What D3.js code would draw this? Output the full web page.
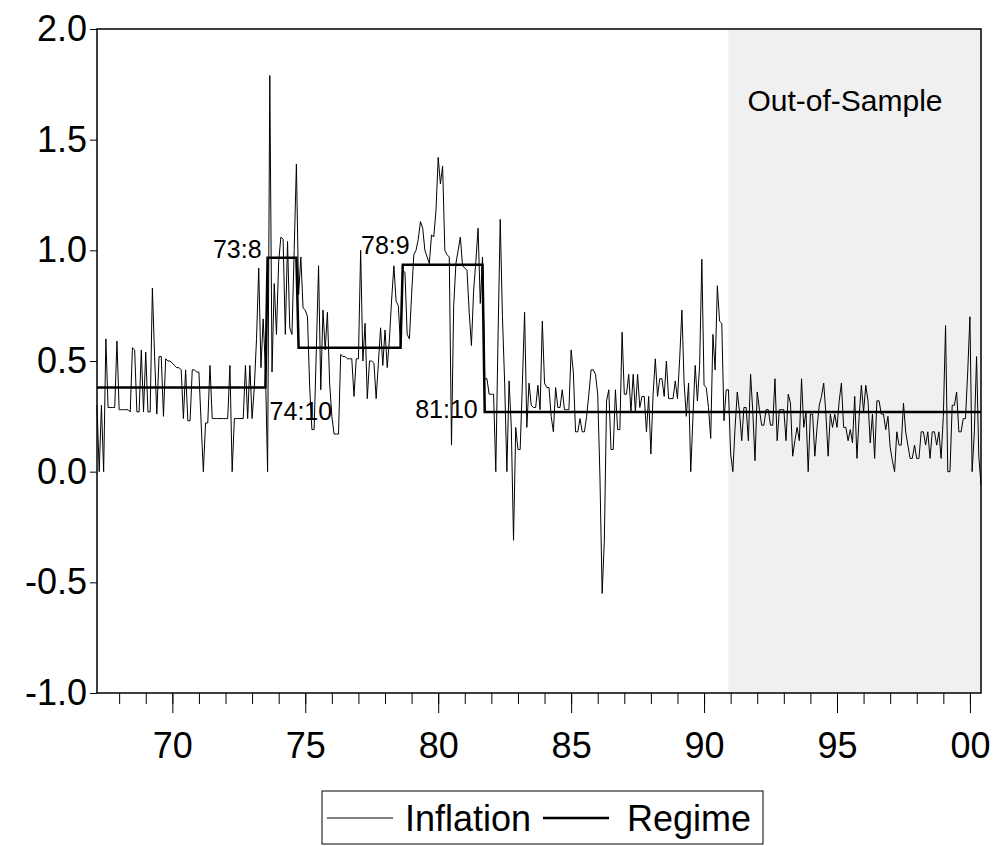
<!DOCTYPE html>
<html>
<head>
<meta charset="utf-8">
<script src="https://d3js.org/d3.v7.min.js"></script>
<style>
body{margin:0;background:#fff;}
text{font-family:"Liberation Sans",Arial,sans-serif;fill:#000;}
</style>
</head>
<body>
<div id="chart"></div>
<script>
// first observation of the monthly series
var startYear=1967;
var startMonth=3;

// monthly inflation, one line per year (1967 starts in March, 2000 ends in June)
var inflation=[
    0.30,0.00,0.30,0.00,0.60,0.29,0.29,0.29,0.29,0.59,
    0.28,0.28,0.28,0.28,0.28,0.27,0.56,0.55,0.27,0.27,0.55,0.27,
    0.54,0.27,0.27,0.83,0.52,0.26,0.52,0.52,0.25,0.51,0.50,0.50,
    0.49,0.48,0.47,0.47,0.46,0.24,0.46,0.23,0.23,0.46,0.46,0.45,
    0.45,0.22,0.00,0.22,0.22,0.48,0.24,0.24,0.24,0.24,0.24,0.24,
    0.24,0.24,0.48,0.00,0.24,0.24,0.24,0.24,0.24,0.48,0.24,0.48,
    0.24,0.38,0.60,0.92,0.47,0.69,0.47,0.00,1.79,0.45,0.85,0.62,
    0.95,1.06,1.05,0.62,1.04,0.65,0.62,1.00,1.39,0.80,0.97,0.74,
    0.73,0.70,0.38,0.19,0.19,0.55,0.93,0.37,0.73,0.55,0.72,0.40,
    0.25,0.17,0.17,0.17,0.53,0.52,0.52,0.51,0.51,0.51,0.34,0.51,
    0.51,1.00,0.50,0.67,0.33,0.50,0.50,0.49,0.33,0.49,0.65,0.48,
    0.64,0.47,0.60,0.78,0.93,0.77,0.75,0.57,0.91,0.90,0.62,0.60,
    0.80,0.98,1.00,1.05,1.13,1.10,1.00,0.97,0.94,1.07,1.06,1.18,
    1.42,1.30,1.38,1.00,0.98,0.97,0.12,0.75,0.94,1.00,1.06,0.93,
    0.92,0.91,0.72,0.57,0.82,0.95,1.10,0.76,0.97,0.42,0.42,0.35,
    0.35,0.35,0.00,0.60,1.14,0.70,0.40,0.00,0.41,0.20,-0.31,0.20,
    0.10,0.10,0.40,0.72,0.20,0.40,0.30,0.29,0.29,0.39,0.28,0.68,
    0.40,0.38,0.38,0.25,0.18,0.38,0.29,0.29,0.37,0.28,0.28,0.28,
    0.55,0.45,0.18,0.18,0.24,0.18,0.18,0.25,0.35,0.46,0.46,0.44,
    0.35,-0.02,-0.55,-0.31,0.32,0.37,0.10,0.10,0.37,0.19,0.19,0.63,
    0.35,0.35,0.44,0.27,0.44,0.27,0.44,0.29,0.34,0.34,0.18,0.34,
    0.08,0.35,0.51,0.34,0.42,0.42,0.34,0.50,0.33,0.33,0.33,0.41,
    0.33,0.51,0.73,0.40,0.25,0.40,0.00,0.25,0.48,0.32,0.48,0.96,
    0.39,0.38,0.29,0.15,0.62,0.46,0.84,0.68,0.67,0.23,0.37,0.37,
    0.08,0.00,0.20,0.36,0.27,0.14,0.29,0.29,0.14,0.44,0.27,0.05,
    0.36,0.28,0.21,0.21,0.28,0.28,0.21,0.21,0.42,0.14,0.28,0.28,
    0.28,0.14,0.35,0.31,0.07,0.14,0.20,0.14,0.42,0.20,0.27,0.00,
    0.26,0.26,0.07,0.20,0.30,0.34,0.40,0.26,0.07,0.26,0.20,0.26,
    0.20,0.32,0.40,0.20,0.20,0.14,0.19,0.13,0.34,0.06,0.25,0.39,
    0.27,0.39,0.32,0.13,0.26,0.06,0.32,0.32,0.26,0.26,0.19,0.25,
    0.11,0.05,0.00,0.18,0.12,0.12,0.31,0.18,0.12,0.06,0.06,0.12,
    0.06,0.06,0.18,0.18,0.12,0.18,0.06,0.18,0.18,0.12,0.18,0.06,
    0.25,0.66,0.00,0.00,0.30,0.30,0.36,0.18,0.18,0.24,0.24,0.45,
    0.70,0.00,0.18,0.52,0.07,-0.06
];

// regimes: start date and mean level
var regimeStarts=["1967:3","1973:8","1974:10","1978:9","1981:10"];
var regimeLevels=[0.38,0.967,0.56,0.935,0.27];
// break labels (one per regime change)
var breakLabels=["73:8","74:10","78:9","81:10"];

// out-of-sample period starts here
var outOfSampleStart="1990:12";

// axis ticks
var yTicks=[-1.0,-0.5,0.0,0.5,1.0,1.5,2.0];
var minorYears=d3.range(1968,2001);
var majorYears=[1970,1975,1980,1985,1990,1995,2000];
var seriesNames=["Inflation","Regime"];

// set SVG dimension
var svgWidth=994;
var svgHeight=846;

// set margins
var margin={top:29,right:13,bottom:153,left:97};

var chartWidth=svgWidth-margin.left-margin.right;
var chartHeight=svgHeight-margin.top-margin.bottom;

// "1973:8" -> decimal year
function toYear(s) {
    var p=s.split(":");
    return +p[0]+(+p[1]-1)/12;
}

function regimeAt(t) {
    var level=regimeLevels[0];
    regimeStarts.forEach(function(s,k) {
        if (t>=toYear(s)-1e-6) {level=regimeLevels[k];}
    });
    return level;
}

var data=inflation.map(function(v,i) {
    var t=startYear+(startMonth-1+i)/12;
    return {t:t,inflation:v,regime:regimeAt(t)};
});

var svg=d3.select("#chart")
    .append("svg")
    .attr("width",svgWidth)
    .attr("height",svgHeight);

svg.append("rect")
    .attr("width",svgWidth)
    .attr("height",svgHeight)
    .attr("fill","#fff");

var chartGroup=svg.append("g")
    .attr("transform",`translate(${margin.left},${margin.top})`);

// scales
var xScale=d3.scaleLinear()
    .domain([data[0].t,data[data.length-1].t])
    .range([0,chartWidth]);

var yScale=d3.scaleLinear()
    .domain([-1,2])
    .range([chartHeight,0]);

// out-of-sample shading
var shadeX=xScale(toYear(outOfSampleStart));
chartGroup.append("rect")
    .attr("x",shadeX)
    .attr("y",0)
    .attr("width",chartWidth-shadeX)
    .attr("height",chartHeight)
    .attr("fill","#f0f0f0");

chartGroup.append("text")
    .attr("x",shadeX+19)
    .attr("y",82)
    .attr("font-size","30px")
    .text("Out-of-Sample");

// series lines
var inflationLine=d3.line()
    .x(d=>xScale(d.t))
    .y(d=>yScale(d.inflation));

var regimeLine=d3.line()
    .x(d=>xScale(d.t))
    .y(d=>yScale(d.regime));

chartGroup.append("path")
    .datum(data)
    .attr("d",inflationLine)
    .attr("fill","none")
    .attr("stroke","#000")
    .attr("stroke-width",1)
    .attr("stroke-linejoin","miter");

chartGroup.append("path")
    .datum(data)
    .attr("d",regimeLine)
    .attr("fill","none")
    .attr("stroke","#000")
    .attr("stroke-width",2.5);

// break labels
var labelOffsets=[
    {anchor:"end",dx:-6,dy:0},
    {anchor:"start",dx:-29,dy:72},
    {anchor:"end",dx:7,dy:-11},
    {anchor:"end",dx:-7,dy:6}
];
breakLabels.forEach(function(lab,k) {
    var bx=xScale(toYear(regimeStarts[k+1]));
    var by=yScale(regimeLevels[k+1]);
    chartGroup.append("text")
        .attr("x",bx+labelOffsets[k].dx)
        .attr("y",by+labelOffsets[k].dy)
        .attr("text-anchor",labelOffsets[k].anchor)
        .attr("font-size","25px")
        .text(lab);
});

// frame
chartGroup.append("rect")
    .attr("width",chartWidth)
    .attr("height",chartHeight)
    .attr("fill","none")
    .attr("stroke","#000")
    .attr("stroke-width",1.5);

// y axis
var leftAxis=d3.axisLeft(yScale)
    .tickValues(yTicks)
    .tickSize(7)
    .tickPadding(3)
    .tickFormat(d=>d.toFixed(1));

var yAxis=chartGroup.append("g").call(leftAxis);
yAxis.select(".domain").remove();
yAxis.selectAll("text")
    .attr("font-size","36px")
    .attr("font-family","Liberation Sans, Arial, sans-serif");

// x axis, minor and major ticks
var minorAxis=d3.axisBottom(xScale)
    .tickValues(minorYears)
    .tickSize(11)
    .tickFormat("");

var majorAxis=d3.axisBottom(xScale)
    .tickValues(majorYears)
    .tickSize(20)
    .tickPadding(19)
    .tickFormat(d=>String(d).slice(2));

var xMinor=chartGroup.append("g")
    .attr("transform",`translate(0,${chartHeight})`)
    .call(minorAxis);
xMinor.select(".domain").remove();

var xAxis=chartGroup.append("g")
    .attr("transform",`translate(0,${chartHeight})`)
    .call(majorAxis);
xAxis.select(".domain").remove();
xAxis.selectAll("text")
    .attr("font-size","36px")
    .attr("font-family","Liberation Sans, Arial, sans-serif");

svg.selectAll(".tick line").attr("stroke","#000");

// legend
var legend=svg.append("g")
    .attr("transform","translate(322,791)");

legend.append("rect")
    .attr("width",441)
    .attr("height",53)
    .attr("fill","#fff")
    .attr("stroke","#000")
    .attr("stroke-width",1);

var legendItems=[
    {x:5,width:1,textX:83},
    {x:221,width:2.5,textX:305}
];
seriesNames.forEach(function(name,k) {
    legend.append("line")
        .attr("x1",legendItems[k].x)
        .attr("x2",legendItems[k].x+66)
        .attr("y1",27)
        .attr("y2",27)
        .attr("stroke","#000")
        .attr("stroke-width",legendItems[k].width);
    legend.append("text")
        .attr("x",legendItems[k].textX)
        .attr("y",40)
        .attr("font-size","36px")
        .text(name);
});
</script>
</body>
</html>
